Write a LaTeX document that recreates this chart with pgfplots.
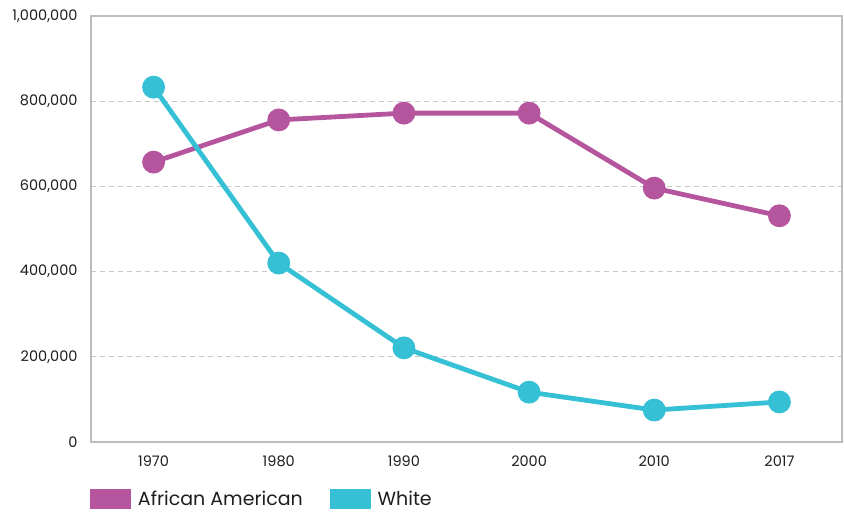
\documentclass[border=0pt]{standalone}
\usepackage{fontspec}
\setmainfont{Poppins}
\usepackage{pgfplots}
\pgfplotsset{compat=1.18}
\definecolor{aa}{HTML}{B5559E}
\definecolor{wh}{HTML}{35C0D5}
\definecolor{axgray}{HTML}{BDBDBD}
\definecolor{gridgray}{HTML}{C8C8C8}
\definecolor{txt}{HTML}{1E1E1E}
\begin{document}
\begin{tikzpicture}
\useasboundingbox (-91pt,-72pt) rectangle (753pt,442pt);
\begin{axis}[
  at={(0,0)}, anchor=south west,
  scale only axis, width=751pt, height=426pt,
  xmin=-0.5, xmax=5.5, ymin=0, ymax=1000000,
  xtick={0,1,2,3,4,5},
  xticklabels={1970,1980,1990,2000,2010,2017},
  ytick={0,200000,400000,600000,800000,1000000},
  scaled y ticks=false,
  /pgf/number format/fixed,
  /pgf/number format/precision=0,
  /pgf/number format/1000 sep={,},
  /pgf/number format/assume math mode=true,
  major tick length=0pt,
  axis line style={axgray, line width=1.2pt},
  ymajorgrids, grid style={gridgray, dash pattern=on 5pt off 4pt, line width=0.8pt},
  tick label style={font=\fontsize{14.5}{16}\selectfont, text=txt},
  yticklabel style={xshift=-10pt},
  xticklabel style={yshift=-10pt},
  legend style={at={(0,0)}, anchor=north west, yshift=-46pt, xshift=-2pt, draw=none, fill=none,
    font=\fontsize{19}{22}\selectfont, text=txt, legend columns=2, inner sep=1pt,
    /tikz/every odd column/.append style={column sep=5pt},
    /tikz/every even column/.append style={column sep=25pt}},
  legend cell align=left,
  legend image code/.code={\fill[#1] (0pt,-7.5pt) rectangle (36pt,7.5pt);},
]
\addplot[aa, line width=4.8pt, mark=*, mark size=9pt, mark options={fill=aa, draw=none}]
 coordinates {(0,657000) (1,756000) (2,772000) (3,772000) (4,596000) (5,531000)};
\addlegendentry{African American}
\addplot[wh, line width=4.8pt, mark=*, mark size=9pt, mark options={fill=wh, draw=none}]
 coordinates {(0,833000) (1,420000) (2,221000) (3,117000) (4,75000) (5,94000)};
\addlegendentry{White}
\end{axis}
\end{tikzpicture}
\end{document}
